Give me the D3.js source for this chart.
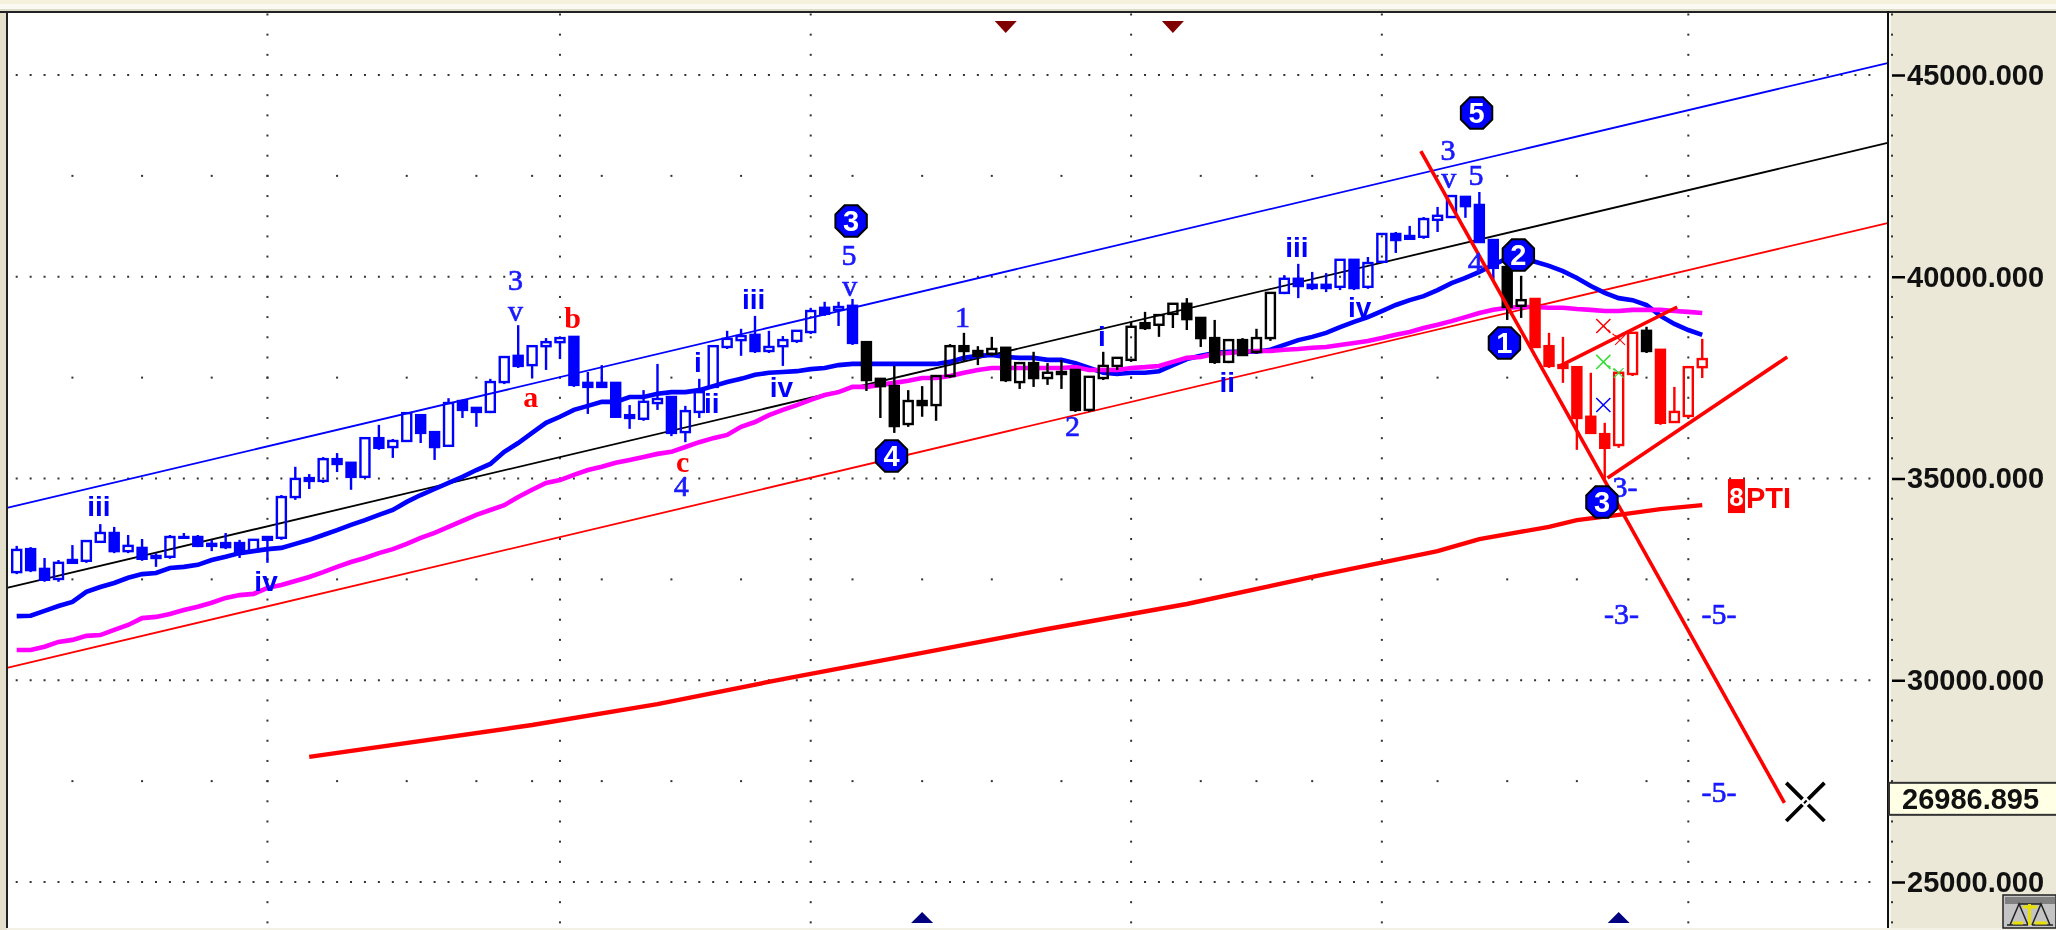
<!DOCTYPE html>
<html>
<head>
<meta charset="utf-8">
<script src="https://cdn.jsdelivr.net/npm/d3@7"></script>
<style>
  html, body { margin: 0; padding: 0; background: #f3f1e6; overflow: hidden; }
  /* the original is an enlarged screenshot, a touch soft */
  svg { display: block; filter: blur(0.5px); }
</style>
</head>
<body>
<div id="chart-area"></div>
<script>
// weekly candles, one entry per bar
var opens = [32680,33250,32760,32510,32980,32960,33430,33650,33200,33280,33080,33060,33550,33550,33380,33400,33400,33200,33550,33530,34540,35010,34940,35480,35390,35040,36000,35780,35930,36570,36150,35810,36920,36750,36650,37390,38040,37810,38280,38380,38510,37370,37370,37370,36570,36480,36870,37020,36150,36650,37270,38260,38430,38560,38160,38280,38410,38630,39230,39180,39280,38380,37470,37290,36350,36920,36820,37540,38280,38160,38090,38240,37390,37860,37490,37640,37690,36700,37490,37790,37940,38850,38810,39080,39330,38980,38480,37890,38430,38140,38480,39600,39950,39800,39800,39750,40420,39750,40370,41060,41010,40990,41410,41480,41980,41780,40910,40240,39280,39450,38280,37810,37760,36530,36100,35830,37590,38660,38190,36400,36550,37760];
var highs = [33330,33300,33030,32980,33350,33450,33870,33800,33600,33500,33150,33600,33650,33600,33480,33650,33480,33480,33550,34590,35290,35110,35530,35630,35390,36000,36330,35980,36620,36570,36150,36990,36950,36770,37470,38010,38800,38280,38480,38480,38530,37640,37810,37390,36820,37190,37840,37020,36800,37470,38280,38660,38710,39030,38660,38530,38660,39230,39380,39380,39450,38380,37470,37790,37190,37290,37540,38330,38610,38280,38510,38240,37860,38140,37860,37940,37690,37520,38140,37990,38880,39130,39050,39330,39470,38980,38930,38430,38480,38710,39600,40040,40320,40120,40090,40420,40420,40490,41060,41110,41260,41480,41730,42000,41980,42100,40910,40240,40020,39450,38610,38510,37760,37620,36380,37640,38610,38760,38190,37270,37760,38460];
var lows = [32630,32680,32440,32440,32910,32910,33430,33150,33150,32960,32810,33010,33530,33300,33200,33250,33030,33180,32910,33480,34470,34740,34890,35160,34720,35010,35710,35510,35930,35880,35460,35780,36500,36280,36620,37340,37740,37490,37690,37960,37270,36600,37270,36500,36230,36430,36700,36050,35900,36500,37240,38210,38040,38110,38110,37790,38360,38580,39030,38780,38310,37170,36500,36130,36280,36530,36430,37490,37890,37810,38040,37390,37220,37270,37320,37220,36650,36650,37440,37690,37890,38680,38510,38730,38680,38260,37840,37860,38040,38090,38410,39570,39470,39670,39620,39670,39670,39700,40340,40590,40940,40940,41110,41480,41460,40840,39920,38930,38980,38240,37740,37370,35710,36130,35010,35760,37540,38110,36330,36380,36500,37490];
var closes = [33230,32730,32490,32910,32910,33450,33650,33200,33330,33010,33030,33550,33530,33330,33330,33300,33150,33480,33480,34540,34990,34940,35480,35360,35040,36000,35760,35930,36620,36130,35780,36870,36700,36650,37390,38010,37790,38280,38380,38480,37320,37270,37270,36530,36500,36900,36970,36130,36670,37140,38280,38460,38530,38160,38260,38430,38660,39150,39080,39250,38360,37440,37290,36300,36920,36820,37540,38280,38160,38040,38210,37440,37860,37490,37620,37590,36700,37520,37790,37990,38760,38730,39050,39330,38950,38480,37890,38430,38060,38480,39600,39950,39770,39720,39720,40420,39720,40340,41060,40910,40940,41430,41510,42000,41750,40860,40220,39250,39420,38260,37790,37740,36500,36130,35760,37620,38610,38160,36380,36650,37760,37960];

// which colour group a run of bars belongs to: first bar of the run, group
var barRuns = [[0, "wave"], [61, "pause"], [91, "wave"], [107, "pause"], [109, "drop"], [117, "pause"], [118, "drop"]];

var blueAvg = [31590,31600,31720,31840,31940,32190,32310,32410,32540,32630,32660,32780,32810,32860,32980,33060,33150,33200,33250,33280,33380,33480,33600,33720,33850,33970,34100,34220,34420,34590,34740,34890,35040,35210,35360,35660,35880,36130,36380,36530,36700,36800,36900,36900,37020,37020,37100,37140,37140,37190,37290,37390,37470,37570,37620,37640,37660,37710,37740,37810,37840,37840,37840,37840,37840,37840,37840,37890,37990,38040,38060,38010,37990,37990,37940,37940,37860,37740,37620,37590,37620,37620,37660,37810,37960,38040,38110,38140,38140,38140,38190,38310,38430,38510,38610,38750,38880,39000,39150,39300,39420,39520,39670,39840,39970,40120,40290,40460,40460,40370,40270,40140,39970,39770,39600,39470,39420,39300,39030,38830,38680,38560];
var pinkAvg = [30750,30750,30830,30950,31000,31100,31120,31250,31370,31540,31570,31640,31740,31820,31920,32040,32110,32140,32290,32360,32460,32560,32680,32810,32930,33030,33150,33250,33380,33530,33650,33800,33950,34100,34220,34340,34540,34720,34890,34960,35090,35210,35290,35390,35460,35530,35610,35660,35780,35900,36000,36080,36280,36400,36570,36700,36820,36950,37070,37140,37270,37270,37320,37370,37420,37490,37490,37540,37620,37690,37740,37740,37740,37740,37740,37740,37760,37690,37690,37690,37740,37760,37790,37890,37990,38010,38090,38110,38140,38160,38160,38190,38210,38240,38260,38310,38360,38410,38480,38560,38630,38730,38810,38900,39000,39100,39180,39230,39250,39250,39230,39230,39200,39180,39150,39150,39180,39180,39180,39150,39130,39100];
// slow average, read at a handful of bars
var redAvgBars = [21,37,46,55,65,74,84,93,102,105,110,112,115,118,121];
var redAvg = [28100,28890,29410,30030,30680,31270,31890,32560,33200,33500,33800,33970,34100,34240,34340];

// straight lines: [bar, price, bar, price, group]
var channelLines = [
  [-0.7, 34270, 134.3, 45297, "upper"],
  [-0.7, 32288, 134.3, 43315, "middle"],
  [-0.7, 30305, 134.3, 41332, "lower"]
];
var trendLines = [
  [100.8, 43116, 126.9, 26960],
  [114.2, 35013, 127.1, 38011],
  [110.65, 37764, 119.2, 39250]
];

// wave counts: text, bar, price, style
var waveLabels = [
  ["iii", 5.9, 34295, "roman"], ["iv", 17.9, 32436, "roman"],
  ["3", 35.8, 39920, "num"], ["v", 35.8, 39152, "num"],
  ["b", 39.9, 38978, "abc"], ["a", 36.9, 37020, "abc"], ["c", 47.8, 35410, "abc"],
  ["4", 47.7, 34815, "num"], ["iii", 52.9, 39449, "roman"], ["i", 48.9, 37863, "roman"],
  ["ii", 49.9, 36847, "roman"], ["iv", 54.9, 37268, "roman"],
  ["5", 59.75, 40539, "num"], ["v", 59.8, 39771, "num"],
  ["1", 67.9, 39003, "num"], ["2", 75.8, 36302, "num"], ["i", 77.9, 38532, "roman"],
  ["ii", 86.9, 37392, "roman"], ["iii", 91.9, 40737, "roman"], ["iv", 96.4, 39250, "roman"],
  ["3", 102.75, 43141, "num"], ["v", 102.8, 42447, "num"], ["5", 104.75, 42521, "num"], ["4", 104.7, 40366, "num"],
  ["-3-", 115.1, 34790, "num"], ["-3-", 115.2, 31643, "num"], ["-5-", 122.2, 31643, "num"], ["-5-", 122.2, 27232, "num"]
];
var waveBadges = [
  ["3", 59.9, 41382], ["4", 62.8, 35558], ["5", 104.8, 44058],
  ["2", 107.8, 40539], ["1", 106.8, 38358], ["3", 113.8, 34419]
];
// cross markers: bar, price, group, arm scale
var crossMarks = [
  [113.9, 38780, "drop", 1], [115.1, 38433, "drop", 0.7],
  [113.9, 37888, "green", 1], [115, 37615, "green", 0.7],
  [113.9, 36822, "wave", 1]
];
var crossLinks = [[113.9, 38780, 115.1, 38433, "drop"], [113.9, 37888, 115, 37615, "green"]];
var targetMark = [128.4, 26985];

var sellBars = [71, 83];
var buyBars = [65, 115];

var gridBars = [18, 39, 57, 80, 98, 120];
var monthBars = [4,9,14,18,23,28,33,37,39,42,47,52,57,60,65,70,75,80,85,89,93,98,102,107,112,117,120];
var axisTicks = [25000, 30000, 35000, 40000, 45000];
var midTicks = [27500, 32500, 37500, 42500];
var lastPrice = 26986.895;
var pti = ["8", "PTI", 122.85, 34540];

var totalWidth = 2056;
var totalHeight = 930;
var plot = { left: 8, right: 1887, top: 13, bottom: 928 };

var colors = d3.scaleOrdinal()
  .domain(["wave", "pause", "drop", "green", "upper", "middle", "lower"])
  .range(["#0000ff", "#000000", "#ff0000", "#33dd33", "#0000ff", "#000000", "#ff0000"]);

var x = d3.scaleLinear().domain([0, 133]).range([16.7, 1869.4]);
var y = d3.scaleLinear().domain([25000, 45000]).range([882, 75]);

var svg = d3.select("#chart-area")
  .append("svg")
  .attr("width", totalWidth)
  .attr("height", totalHeight);

// window chrome
svg.append("rect").attr("width", totalWidth).attr("height", totalHeight).attr("fill", "#f3f1e6");
svg.append("rect").attr("width", totalWidth).attr("height", 4).attr("fill", "#f6f1dc");
svg.append("rect").attr("y", 4).attr("width", totalWidth).attr("height", 5).attr("fill", "#fbfaf2");
svg.append("rect").attr("y", 9).attr("width", totalWidth).attr("height", 2).attr("fill", "#dedbc8");
svg.append("rect").attr("x", 0).attr("y", 11).attr("width", 7).attr("height", 919).attr("fill", "#e4e0cc");
svg.append("rect")
  .attr("x", plot.left)
  .attr("y", plot.top)
  .attr("width", plot.right - plot.left)
  .attr("height", plot.bottom - plot.top)
  .attr("fill", "#ffffff");
svg.append("rect")
  .attr("x", plot.right)
  .attr("y", plot.top)
  .attr("width", totalWidth - plot.right)
  .attr("height", plot.bottom - plot.top)
  .attr("fill", "#ebe8d8");

// dotted grid
var grid = svg.append("g").attr("fill", "#333333");

function dots(points) {
  grid.selectAll(null)
    .data(points)
    .enter()
    .append("rect")
    .attr("x", (d) => d[0] - 1)
    .attr("y", (d) => d[1] - 1)
    .attr("width", 2)
    .attr("height", 2);
}

var allBars = d3.range(0, 134);
var vPrices = d3.range(24000, 46501, 500);

axisTicks.forEach((t) => dots(allBars.map((b) => [x(b), y(t)])));
midTicks.forEach((t) => dots(monthBars.map((b) => [x(b), y(t)])));
gridBars.forEach((b) => dots(vPrices.map((p) => [x(b), y(p)])));

// channel
svg.append("g")
  .selectAll("line")
  .data(channelLines)
  .enter()
  .append("line")
  .attr("x1", (d) => x(d[0]))
  .attr("y1", (d) => y(d[1]))
  .attr("x2", (d) => x(d[2]))
  .attr("y2", (d) => y(d[3]))
  .attr("stroke", (d) => colors(d[4]))
  .attr("stroke-width", 1.8);

// averages
var avgLine = d3.line().x((d, i) => x(i)).y((d) => y(d));

svg.append("path")
  .datum(blueAvg)
  .attr("d", avgLine)
  .attr("fill", "none")
  .attr("stroke", "#0000ff")
  .attr("stroke-width", 4.6);

svg.append("path")
  .datum(pinkAvg)
  .attr("d", avgLine)
  .attr("fill", "none")
  .attr("stroke", "#ff00ff")
  .attr("stroke-width", 4.6);

svg.append("path")
  .datum(redAvg)
  .attr("d", d3.line().x((d, i) => x(redAvgBars[i])).y((d) => y(d)))
  .attr("fill", "none")
  .attr("stroke", "#ff0000")
  .attr("stroke-width", 4.4);

// candles
function groupOf(i) {
  var g = barRuns[0][1];
  barRuns.forEach((r) => { if (i >= r[0]) g = r[1]; });
  return g;
}

var bars = opens.map((o, i) => ({
  i: i, open: o, high: highs[i], low: lows[i], close: closes[i], group: groupOf(i)
}));
var bodyWidth = 9;

var candle = svg.append("g")
  .selectAll("g")
  .data(bars)
  .enter()
  .append("g")
  .attr("stroke", (d) => colors(d.group))
  .attr("stroke-width", 2.4);

candle.append("line")
  .attr("x1", (d) => x(d.i))
  .attr("x2", (d) => x(d.i))
  .attr("y1", (d) => y(d.high))
  .attr("y2", (d) => y(Math.max(d.open, d.close)));

candle.append("line")
  .attr("x1", (d) => x(d.i))
  .attr("x2", (d) => x(d.i))
  .attr("y1", (d) => y(Math.min(d.open, d.close)))
  .attr("y2", (d) => y(d.low));

candle.append("rect")
  .attr("x", (d) => x(d.i) - bodyWidth / 2)
  .attr("y", (d) => y(Math.max(d.open, d.close)))
  .attr("width", bodyWidth)
  .attr("height", (d) => Math.abs(y(d.open) - y(d.close)))
  .attr("fill", (d) => d.close < d.open ? colors(d.group) : "none");

// trend lines
svg.append("g")
  .selectAll("line")
  .data(trendLines)
  .enter()
  .append("line")
  .attr("x1", (d) => x(d[0]))
  .attr("y1", (d) => y(d[1]))
  .attr("x2", (d) => x(d[2]))
  .attr("y2", (d) => y(d[3]))
  .attr("stroke", "#ff0000")
  .attr("stroke-width", 3.6);

// small crosses
svg.append("g")
  .selectAll("line")
  .data(crossLinks)
  .enter()
  .append("line")
  .attr("x1", (d) => x(d[0]))
  .attr("y1", (d) => y(d[1]))
  .attr("x2", (d) => x(d[2]))
  .attr("y2", (d) => y(d[3]))
  .attr("stroke", (d) => colors(d[4]))
  .attr("stroke-width", 1.2)
  .attr("stroke-dasharray", "3 3");

svg.append("g")
  .selectAll("path")
  .data(crossMarks)
  .enter()
  .append("path")
  .attr("transform", (d) => "translate(" + x(d[0]) + "," + y(d[1]) + ") rotate(45) scale(" + d[3] + ")")
  .attr("d", "M-10,0H10M0,-10V10")
  .attr("fill", "none")
  .attr("stroke", (d) => colors(d[2]))
  .attr("stroke-width", 1.5);

// target cross, gap in the middle
svg.append("path")
  .attr("transform", "translate(" + x(targetMark[0]) + "," + y(targetMark[1]) + ") rotate(45)")
  .attr("d", "M-27,0H-4M4,0H27M0,-27V-4M0,4V27M-1,0H1")
  .attr("fill", "none")
  .attr("stroke", "#000000")
  .attr("stroke-width", 3.8);

// labels
var labelStyle = {
  roman: { family: "'Liberation Sans', sans-serif", weight: 700, size: 28, fill: "#0000ff", edge: 0 },
  num: { family: "'Liberation Serif', serif", weight: 400, size: 30, fill: "#1a1aff", edge: 0.7 },
  abc: { family: "'Liberation Serif', serif", weight: 700, size: 30, fill: "#ff0000", edge: 0 }
};

svg.append("g")
  .selectAll("text")
  .data(waveLabels)
  .enter()
  .append("text")
  .attr("x", (d) => x(d[1]))
  .attr("y", (d) => y(d[2]))
  .attr("dy", "0.34em")
  .attr("text-anchor", "middle")
  .attr("font-family", (d) => labelStyle[d[3]].family)
  .attr("font-weight", (d) => labelStyle[d[3]].weight)
  .attr("font-size", (d) => labelStyle[d[3]].size + "px")
  .attr("fill", (d) => labelStyle[d[3]].fill)
  .attr("stroke", (d) => labelStyle[d[3]].fill)
  .attr("stroke-width", (d) => labelStyle[d[3]].edge)
  .text((d) => d[0]);

// octagon badges
var octagon = d3.lineRadial()
  .angle((d) => d)
  .radius(17)
  .curve(d3.curveLinearClosed);
var octagonAngles = d3.range(8).map((k) => Math.PI / 8 + k * Math.PI / 4);

var badge = svg.append("g")
  .selectAll("g")
  .data(waveBadges)
  .enter()
  .append("g")
  .attr("transform", (d) => "translate(" + x(d[1]) + "," + y(d[2]) + ")");

badge.append("path")
  .attr("d", octagon(octagonAngles))
  .attr("fill", "#0000ff")
  .attr("stroke", "#000000")
  .attr("stroke-width", 2);

badge.append("text")
  .attr("dy", "0.36em")
  .attr("text-anchor", "middle")
  .attr("font-family", "'Liberation Sans', sans-serif")
  .attr("font-weight", 700)
  .attr("font-size", "29px")
  .attr("fill", "#ffffff")
  .text((d) => d[0]);

// PTI tag
var ptiX = x(pti[2]);
var ptiY = y(pti[3]);
svg.append("rect")
  .attr("x", ptiX)
  .attr("y", ptiY - 18)
  .attr("width", 17)
  .attr("height", 34)
  .attr("fill", "#ff0000");
svg.append("text")
  .attr("x", ptiX + 8.5)
  .attr("y", ptiY)
  .attr("dy", "0.36em")
  .attr("text-anchor", "middle")
  .attr("font-family", "'Liberation Sans', sans-serif")
  .attr("font-weight", 700)
  .attr("font-size", "26px")
  .attr("fill", "#ffffff")
  .text(pti[0]);
svg.append("text")
  .attr("x", ptiX + 18)
  .attr("y", ptiY)
  .attr("dy", "0.36em")
  .attr("font-family", "'Liberation Sans', sans-serif")
  .attr("font-weight", 700)
  .attr("font-size", "29px")
  .attr("fill", "#ff0000")
  .text(pti[1]);

// sell / buy arrows
svg.append("g")
  .selectAll("path")
  .data(sellBars)
  .enter()
  .append("path")
  .attr("d", (b) => "M" + (x(b) - 11) + ",21H" + (x(b) + 11) + "L" + x(b) + ",33Z")
  .attr("fill", "#800000");

svg.append("g")
  .selectAll("path")
  .data(buyBars)
  .enter()
  .append("path")
  .attr("d", (b) => "M" + (x(b) - 11) + ",923H" + (x(b) + 11) + "L" + x(b) + ",912Z")
  .attr("fill", "#000080");

// price axis on the right
var axis = d3.axisRight(y)
  .tickValues(axisTicks)
  .tickFormat(d3.format(".3f"))
  .tickSize(13)
  .tickPadding(2);

var axisGroup = svg.append("g")
  .attr("class", "y-axis")
  .attr("transform", "translate(1892,0)")
  .call(axis);

axisGroup.select(".domain").remove();
axisGroup.selectAll("line").attr("stroke", "#000000").attr("stroke-width", 2.5);
axisGroup.selectAll("text")
  .attr("font-family", "'Liberation Sans', sans-serif")
  .attr("font-weight", 700)
  .attr("font-size", "29px")
  .attr("fill", "#111111");

svg.append("g")
  .attr("fill", "#333333")
  .selectAll("rect")
  .data(vPrices.filter((p) => axisTicks.indexOf(p) < 0))
  .enter()
  .append("rect")
  .attr("x", 1891)
  .attr("y", (p) => y(p) - 1)
  .attr("width", 2)
  .attr("height", 2);

// borders
svg.append("rect").attr("x", 0).attr("y", 11).attr("width", totalWidth).attr("height", 2).attr("fill", "#222222");
svg.append("rect").attr("x", 6).attr("y", 11).attr("width", 2).attr("height", 917).attr("fill", "#222222");
svg.append("rect").attr("x", 1887).attr("y", 11).attr("width", 2).attr("height", 917).attr("fill", "#111111");
svg.append("rect").attr("x", 1889).attr("y", 13).attr("width", 2).attr("height", 915).attr("fill", "#f8f7f0");

// last price box
var lastY = y(lastPrice) - 3;
svg.append("rect")
  .attr("x", 1889)
  .attr("y", lastY - 16)
  .attr("width", totalWidth - 1889 + 4)
  .attr("height", 32)
  .attr("fill", "#ffffe6")
  .attr("stroke", "#333333")
  .attr("stroke-width", 2);
svg.append("text")
  .attr("x", 1902)
  .attr("y", lastY)
  .attr("dy", "0.36em")
  .attr("font-family", "'Liberation Sans', sans-serif")
  .attr("font-weight", 700)
  .attr("font-size", "29px")
  .attr("fill", "#111111")
  .text(d3.format(".3f")(lastPrice));

// little balance button, bottom right
var btn = svg.append("g").attr("transform", "translate(2003,895)");
btn.append("rect").attr("width", 53).attr("height", 33).attr("fill", "#c4c4c4").attr("stroke", "#222222").attr("stroke-width", 1.5);
btn.append("rect").attr("x", 2).attr("y", 2).attr("width", 50).attr("height", 7).attr("fill", "#808080");
btn.append("path")
  .attr("d", "M7,30L16,9L25,30M29,30L38,9L47,30M4,30H25M29,30H50M16,9L38,9")
  .attr("fill", "none")
  .attr("stroke", "#222222")
  .attr("stroke-width", 1.5);
btn.append("path")
  .attr("d", "M26.5,9V30M20,12H34M10,28H20M32,28H44")
  .attr("fill", "none")
  .attr("stroke", "#e8e000")
  .attr("stroke-width", 3);
</script>
</body>
</html>
